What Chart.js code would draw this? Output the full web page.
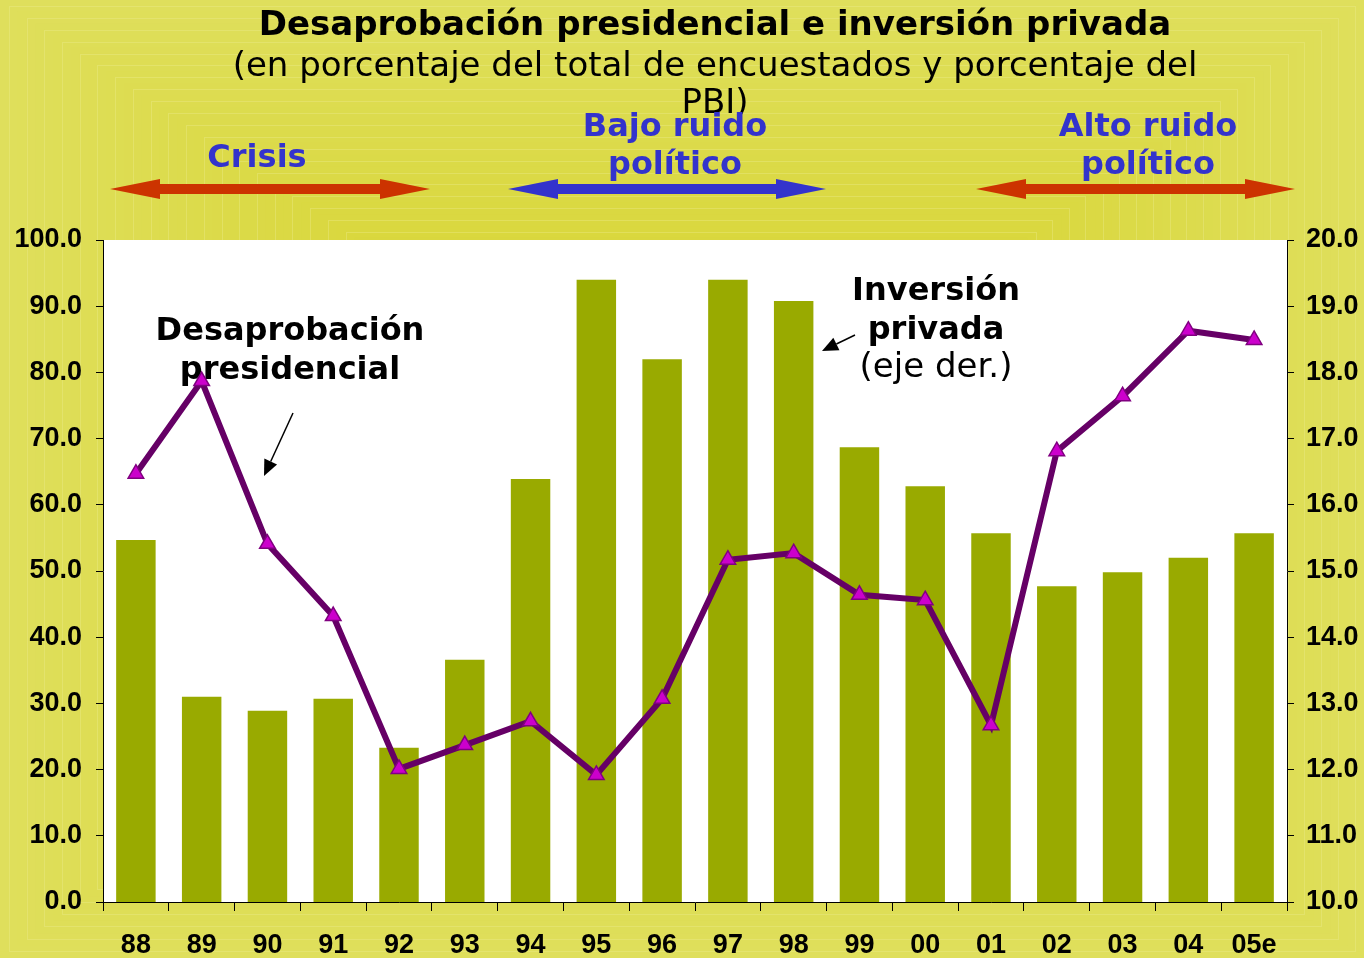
<!DOCTYPE html>
<html>
<head>
<meta charset="utf-8">
<script src="https://cdn.jsdelivr.net/npm/chart.js@4/dist/chart.umd.min.js"></script>
<style>
html,body{margin:0;padding:0;background:#dcdc50;}
#wrap{width:1364px;height:958px;position:relative;}
</style>
</head>
<body>
<div id="wrap"><canvas id="c" width="1364" height="958"></canvas></div>
<script>
// ---- data ----
const years = ['88','89','90','91','92','93','94','95','96','97','98','99','00','01','02','03','04','05e'];
const desaprobacion = [64.7,78.7,54.1,43.2,20.1,23.7,27.3,19.2,30.7,51.7,52.7,46.4,45.6,26.7,68.1,76.4,86.3,84.9];
const inversionPrivada = [15.47,13.10,12.89,13.07,12.33,13.66,16.39,19.40,18.20,19.40,19.08,16.87,16.28,15.57,14.77,14.98,15.20,15.57];
const leftTicks = [0,10,20,30,40,50,60,70,80,90,100];
const rightTicks = [10,11,12,13,14,15,16,17,18,19,20];

const titleText = 'Desaprobación presidencial e inversión privada';
const subtitleLines = ['(en porcentaje del total de encuestados y porcentaje del','PBI)'];

function lerp(a,b,t){return Math.round(a+(b-a)*t);}

const bgPlugin = {
  id:'bg',
  beforeDraw(chart){
    const ctx = chart.ctx, W = chart.width, H = chart.height;
    ctx.save();
    const outer=[223,223,92], inner=[212,208,32];
    const N=80, cx=700, cy=470;
    for(let i=0;i<N;i++){
      const t=i/(N-1);
      const x0=cx*t, y0=cy*t, x1=W-(W-cx)*t, y1=H-(H-cy)*t;
      ctx.fillStyle=`rgb(${lerp(outer[0],inner[0],t)},${lerp(outer[1],inner[1],t)},${lerp(outer[2],inner[2],t)})`;
      ctx.fillRect(x0,y0,x1-x0,y1-y0);
      if(i%2===1){
        ctx.strokeStyle='rgba(238,238,150,0.35)';
        ctx.lineWidth=1;
        ctx.strokeRect(Math.round(x0)+0.5,Math.round(y0)+0.5,Math.round(x1-x0)-1,Math.round(y1-y0)-1);
      }
    }
    const a = chart.chartArea;
    ctx.fillStyle='#ffffff';
    ctx.fillRect(a.left,a.top,a.right-a.left,a.bottom-a.top);
    ctx.restore();
  }
};

function dblArrow(ctx,x0,x1,y,color){
  const sh=5, hh=10, hl=50;
  ctx.fillStyle=color;
  ctx.beginPath();
  ctx.moveTo(x0,y);
  ctx.lineTo(x0+hl,y-hh);
  ctx.lineTo(x0+hl,y-sh);
  ctx.lineTo(x1-hl,y-sh);
  ctx.lineTo(x1-hl,y-hh);
  ctx.lineTo(x1,y);
  ctx.lineTo(x1-hl,y+hh);
  ctx.lineTo(x1-hl,y+sh);
  ctx.lineTo(x0+hl,y+sh);
  ctx.lineTo(x0+hl,y+hh);
  ctx.closePath();
  ctx.fill();
}
function thinArrow(ctx,xs,ys,xe,ye){
  const ang=Math.atan2(ye-ys,xe-xs), L=16, w=7;
  const bx=xe-L*Math.cos(ang), by=ye-L*Math.sin(ang);
  ctx.strokeStyle='#000'; ctx.lineWidth=1.5;
  ctx.beginPath(); ctx.moveTo(xs,ys); ctx.lineTo(bx,by); ctx.stroke();
  ctx.fillStyle='#000';
  ctx.beginPath();
  ctx.moveTo(xe,ye);
  ctx.lineTo(bx+w*Math.sin(ang),by-w*Math.cos(ang));
  ctx.lineTo(bx-w*Math.sin(ang),by+w*Math.cos(ang));
  ctx.closePath(); ctx.fill();
}

const annPlugin = {
  id:'ann',
  beforeDatasetsDraw(chart){
    const ctx=chart.ctx;
    ctx.save();
    ctx.textAlign='center';
    ctx.textBaseline='alphabetic';
    ctx.fillStyle='#000';
    ctx.font='bold 32px "DejaVu Sans"';
    ctx.fillText('Desaprobación',290,340);
    ctx.fillText('presidencial',290,379);
    ctx.fillText('Inversión',936,300);
    ctx.fillText('privada',936,339);
    ctx.font='34px "DejaVu Sans"';
    ctx.fillText('(eje der.)',936,377);
    thinArrow(ctx,293,413,264,476);
    thinArrow(ctx,855,335,822,351);
    ctx.restore();
  },
  afterDraw(chart){
    const ctx=chart.ctx;
    ctx.save();
    ctx.textAlign='center';
    ctx.textBaseline='alphabetic';
    ctx.fillStyle='#000';
    ctx.font='bold 34px "DejaVu Sans"';
    ctx.fillText(titleText,715,35);
    ctx.font='34px "DejaVu Sans"';
    ctx.fillText(subtitleLines[0],715,76);
    ctx.fillText(subtitleLines[1],715,113);
    ctx.fillStyle='#3333cc';
    ctx.font='bold 32px "DejaVu Sans"';
    ctx.fillText('Crisis',257,167);
    ctx.fillText('Bajo ruido',675,136);
    ctx.fillText('político',675,174);
    ctx.fillText('Alto ruido',1148,136);
    ctx.fillText('político',1148,174);
    dblArrow(ctx,110,430,189,'#cc3300');
    dblArrow(ctx,508,826,189,'#3333cc');
    dblArrow(ctx,976,1295,189,'#cc3300');
    ctx.restore();
  }
};

const tickFont = {family:'"Liberation Sans", Arial, sans-serif', size:27, weight:'bold'};

new Chart(document.getElementById('c'),{
  type:'bar',
  data:{
    labels:years,
    datasets:[
      {
        type:'line',
        label:'Desaprobación presidencial',
        data:desaprobacion,
        yAxisID:'y',
        borderColor:'#660066',
        borderWidth:6,
        pointStyle:'triangle',
        pointRadius:9,
        pointBackgroundColor:'#cc00cc',
        pointBorderColor:'#800080',
        pointBorderWidth:1.5,
        tension:0,
        order:0
      },
      {
        type:'bar',
        label:'Inversión privada',
        data:inversionPrivada,
        yAxisID:'y1',
        backgroundColor:'#99aa00',
        borderWidth:0,
        barPercentage:0.6,
        categoryPercentage:1.0,
        order:1
      }
    ]
  },
  options:{
    responsive:false,
    animation:false,
    events:[],
    layout:{padding:{top:240,left:0,right:0,bottom:0}},
    plugins:{legend:{display:false},tooltip:{enabled:false},title:{display:false}},
    scales:{
      x:{
        offset:true,
        grid:{display:true,drawOnChartArea:false,offset:true,color:'#000',tickLength:9,tickWidth:1},
        border:{display:true,color:'#000',width:1},
        ticks:{color:'#000',font:tickFont,padding:18,maxRotation:0,autoSkip:false},
        afterFit(s){s.height=56;}
      },
      y:{
        position:'left',
        min:0,max:100,
        afterBuildTicks(s){s.ticks=leftTicks.map(v=>({value:v}));},
        grid:{display:true,drawOnChartArea:false,color:'#000',tickLength:7},
        border:{display:true,color:'#000',width:1},
        ticks:{color:'#000',font:tickFont,padding:14,callback:v=>Number(v).toFixed(1)},
        afterFit(s){s.width=103;}
      },
      y1:{
        position:'right',
        min:10,max:20,
        afterBuildTicks(s){s.ticks=rightTicks.map(v=>({value:v}));},
        grid:{display:true,drawOnChartArea:false,color:'#000',tickLength:7},
        border:{display:true,color:'#000',width:1},
        ticks:{color:'#000',font:tickFont,padding:12,callback:v=>Number(v).toFixed(1)},
        afterFit(s){s.width=77;}
      }
    }
  },
  plugins:[bgPlugin,annPlugin]
});
</script>
</body>
</html>
